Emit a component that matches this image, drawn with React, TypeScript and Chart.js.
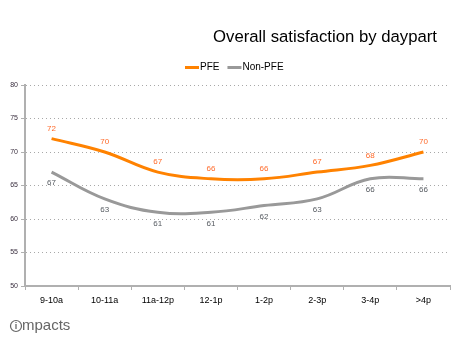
import React, { useEffect, useRef } from "react";
import { Chart, registerables } from "chart.js";

Chart.register(...registerables);

const categories = ["9-10a", "10-11a", "11a-12p", "12-1p", "1-2p", "2-3p", "3-4p", ">4p"];
const pfeValues = [72, 70, 67, 66, 66, 67, 68, 70];
const nonPfeValues = [67, 63, 61, 61, 62, 63, 66, 66];
const seriesNames = ["PFE", "Non-PFE"];
const titleText = "Overall satisfaction by daypart";
const logoText = "mpacts";

const ORANGE = "#FF8200";
const GRAY = "#999999";
const FONT = "'Liberation Sans', Arial, sans-serif";

const decorPlugin = {
  id: "decor",
  afterDatasetsDraw(chart: any) {
    const ctx = chart.ctx;
    ctx.save();
    // data labels
    const labelColors = ["#FF6A2A", "#555a60"];
    chart.data.datasets.forEach((ds: any, di: number) => {
      const meta = chart.getDatasetMeta(di);
      ctx.font = `8px ${FONT}`;
      ctx.fillStyle = labelColors[di];
      ctx.textAlign = "center";
      ctx.textBaseline = "middle";
      meta.data.forEach((pt: any, i: number) => {
        const dy = di === 0 ? -10 : 11;
        ctx.fillText(String(ds.data[i]), pt.x, pt.y + dy);
      });
    });
    ctx.restore();
  },
  afterDraw(chart: any) {
    const ctx = chart.ctx;
    ctx.save();
    // title
    ctx.font = `17px ${FONT}`;
    ctx.fillStyle = "#000";
    ctx.textAlign = "center";
    ctx.textBaseline = "middle";
    const tw = ctx.measureText(titleText).width;
    const target = 224;
    const size = 17 * target / tw;
    ctx.font = `${size}px ${FONT}`;
    ctx.fillText(titleText, 325, 37);
    // legend
    ctx.font = `10px ${FONT}`;
    ctx.textAlign = "left";
    ctx.fillStyle = "#000";
    const colors = [ORANGE, GRAY];
    let x = 185;
    const ly = 67.5;
    seriesNames.forEach((name, i) => {
      ctx.strokeStyle = colors[i];
      ctx.lineWidth = 3;
      ctx.beginPath();
      ctx.moveTo(x, ly);
      ctx.lineTo(x + 14, ly);
      ctx.stroke();
      ctx.fillText(name, x + 15, ly);
      x += 15 + ctx.measureText(name).width + 8;
    });
    // logo
    ctx.fillStyle = "#666";
    ctx.strokeStyle = "#666";
    ctx.lineWidth = 1.2;
    ctx.beginPath();
    ctx.arc(16, 326, 5.5, 0, Math.PI * 2);
    ctx.stroke();
    ctx.font = `bold 9px ${FONT}`;
    ctx.textAlign = "center";
    ctx.fillText("i", 16, 326.5);
    ctx.font = `15px ${FONT}`;
    ctx.textAlign = "left";
    ctx.fillText(logoText, 22, 326);
    ctx.restore();
  },
};

export default function App() {
  const ref = useRef<HTMLCanvasElement>(null);
  useEffect(() => {
    if (!ref.current) return;
    const chart = new Chart(ref.current, {
      type: "line",
      data: {
        labels: categories,
        datasets: [
          {
            label: seriesNames[0],
            data: pfeValues,
            borderColor: ORANGE,
            backgroundColor: ORANGE,
            borderWidth: 3,
            pointRadius: 0,
            tension: 0.4,
          },
          {
            label: seriesNames[1],
            data: nonPfeValues,
            borderColor: GRAY,
            backgroundColor: GRAY,
            borderWidth: 3,
            pointRadius: 0,
            tension: 0.4,
          },
        ],
      },
      plugins: [decorPlugin],
      options: {
        responsive: false,
        devicePixelRatio: 1,
        animation: false,
        layout: { padding: { top: 85, right: 11, bottom: 28, left: 0 } },
        plugins: {
          legend: { display: false },
          title: { display: false },
          tooltip: { enabled: false },
        },
        scales: {
          x: {
            offset: true,
            afterFit: (s: any) => { s.height = 30; },
            grid: {
              display: true,
              offset: true,
              drawOnChartArea: false,
              drawTicks: true,
              tickLength: 4,
              tickColor: "#b0b0b0",
              tickWidth: 1,
            },
            border: { display: true, color: "#b0b0b0", width: 2 },
            ticks: {
              color: "#000",
              font: { family: FONT, size: 9 },
              padding: 5,
              maxRotation: 0,
            },
          },
          y: {
            min: 50,
            max: 80,
            afterFit: (s: any) => { s.width = 25; },
            grid: {
              color: "#a8a8a8",
              lineWidth: 1,
              drawTicks: true,
              tickLength: 4,
              tickColor: "#b0b0b0",
              tickBorderDash: [],
            },
            border: { display: true, color: "#b0b0b0", width: 2, dash: [1, 3] },
            ticks: {
              stepSize: 5,
              color: "#3a2f3f",
              font: { family: FONT, size: 7 },
              padding: 3,
            },
          },
        },
      },
    });
    return () => chart.destroy();
  }, []);
  return (
    <div style={{ position: "absolute", left: 0, top: 0, width: 461, height: 344 }}>
      <canvas ref={ref} width={461} height={344} style={{ width: 461, height: 344, display: "block" }} />
    </div>
  );
}
